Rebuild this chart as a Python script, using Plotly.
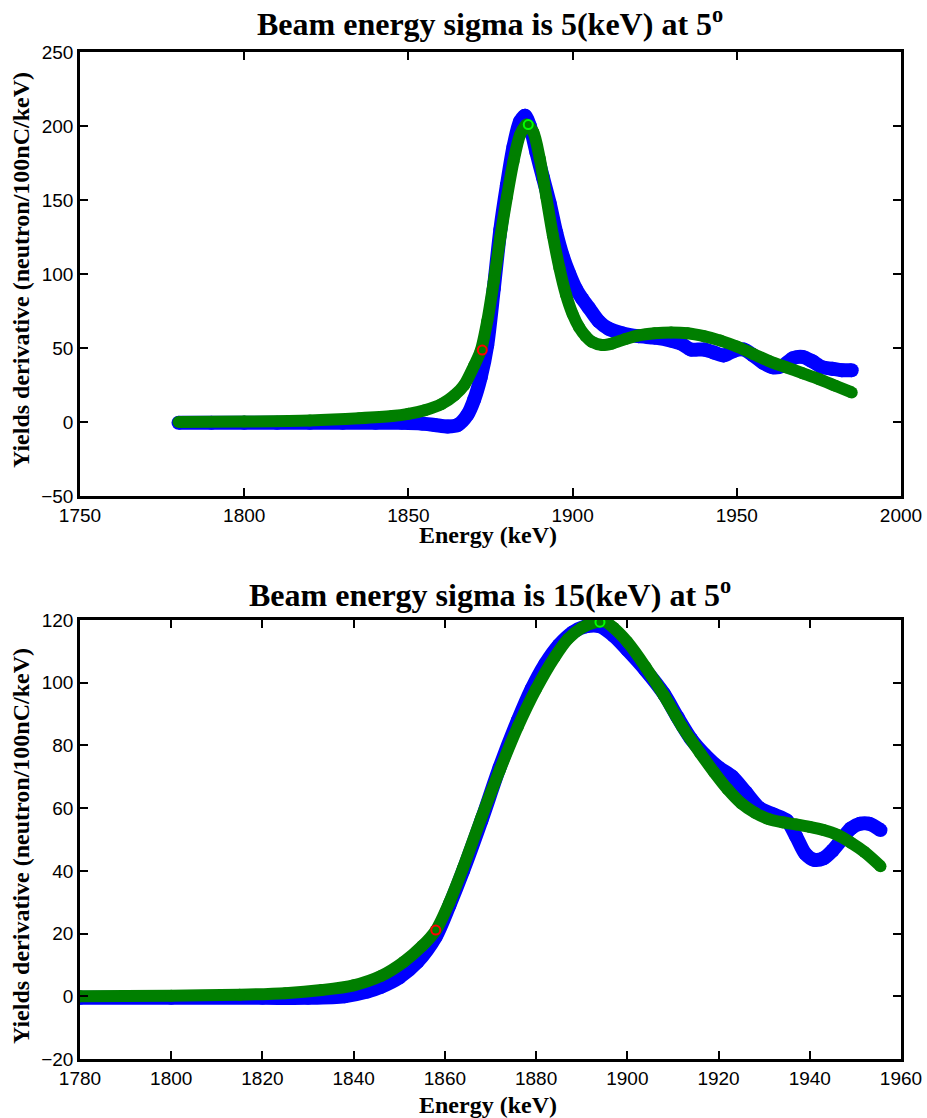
import plotly.graph_objects as go

# ---------------- data: top panel (sigma = 5 keV) ----------------
top_blue_x = [1780, 1790, 1800, 1810, 1820, 1830, 1840, 1848, 1854, 1858, 1862, 1865,
              1868, 1870, 1872, 1874, 1876, 1878, 1880, 1882, 1884, 1885.5, 1887, 1889,
              1891, 1893, 1895, 1897, 1899, 1901, 1903, 1905, 1908, 1911, 1915, 1920,
              1925, 1930, 1933, 1936, 1940, 1943, 1946, 1949, 1952, 1955, 1958, 1961,
              1964, 1967, 1970, 1973, 1976, 1979, 1982, 1985]
top_blue_y = [-0.5, -0.5, -0.5, -0.5, -0.5, -0.5, -0.5, -0.5, -1, -2, -3, -2,
              5, 15, 30, 52, 90, 130, 160, 186, 203, 207, 200, 182,
              165, 148, 128, 112, 100, 90, 83, 77, 68, 63, 60, 58,
              57, 55, 53, 49, 49, 47, 45, 48, 49, 45, 40, 37,
              38, 43, 44, 41, 37, 36, 35, 35]

top_green_x = [1780, 1800, 1820, 1835, 1845, 1850, 1855, 1860, 1864, 1867, 1870, 1872,
               1874, 1876, 1878, 1880, 1882, 1884, 1886, 1888, 1890, 1892, 1894, 1896,
               1898, 1900, 1902, 1904, 1906, 1909, 1912, 1916, 1920, 1925, 1930, 1935,
               1940, 1945, 1950, 1955, 1960, 1965, 1970, 1975, 1980, 1985]
top_green_y = [0, 0.3, 1, 2.5, 4, 5.5, 8, 12, 18, 25, 38, 48,
               68, 95, 125, 152, 176, 194, 201, 196, 178, 152, 126, 104,
               86, 73, 64, 58, 54, 52, 53, 56, 58.5, 60, 60.5, 60,
               58, 55, 51, 46, 41, 37, 33, 29, 24.5, 20]

top_red_pt = (1872.5, 48.6)
top_peak_pt = (1886.5, 201)

# ---------------- data: bottom panel (sigma = 15 keV) ----------------
bot_blue_x = [1780, 1800, 1820, 1830, 1838, 1843, 1846, 1850, 1854, 1858, 1861,
              1864, 1868, 1872, 1876, 1879, 1882, 1885, 1888, 1891, 1894, 1897, 1900,
              1904, 1908, 1911, 1914, 1917, 1920, 1923, 1926, 1929, 1932, 1935, 1937,
              1939, 1941, 1943, 1945, 1947, 1949, 1951, 1953, 1955.5]
bot_blue_y = [-0.5, -0.5, -0.5, -0.5, 0, 1.5, 3, 6, 11, 19, 29,
              40, 56, 73, 88, 98, 106, 112, 116, 118, 118, 115, 110.5,
              104, 96.5, 89, 82, 77, 73, 70, 65, 60, 58, 56, 51,
              45.5, 43.5, 44, 46.5, 50, 53.5, 55, 55, 53]

bot_green_x = [1780, 1800, 1815, 1825, 1833, 1840, 1846, 1851, 1855, 1858, 1861, 1864,
               1868, 1872, 1876, 1880, 1884, 1887, 1890, 1893, 1895, 1897, 1900, 1904,
               1908, 1912, 1916, 1919, 1922, 1925, 1928, 1931, 1934, 1937, 1940, 1943,
               1946, 1949, 1952, 1955.5]
bot_green_y = [0, 0.2, 0.5, 1, 2, 3.5, 6.5, 11, 16, 21, 30, 41,
               57, 72, 86, 98, 108, 114, 117.5, 119.3, 119.5, 117.5, 113, 105,
               96, 86, 77.5, 71.5, 66, 61.5, 58.5, 56.5, 55.5, 54.8, 54, 53,
               51.5, 49, 46, 41.5]

bot_red_pt = (1858, 21.1)
bot_peak_pt = (1894, 119.3)

titles = ["Beam energy sigma is 5(keV) at 5<sup>o</sup>",
          "Beam energy sigma is 15(keV) at 5<sup>o</sup>"]
x_title = "Energy (keV)"
y_title = "Yields derivative (neutron/100nC/keV)"

# ---------------- figure ----------------
W, H = 927, 1118
BLUE = "#0000ff"
GREEN = "#007f00"
SERIF = "Liberation Serif, Times New Roman, serif"
SANS = "Liberation Sans, Arial, sans-serif"

fig = go.Figure()


def add_panel(bx, by, gx, gy, red, peak, xa, ya):
    fig.add_trace(go.Scatter(x=bx, y=by, mode="lines+markers", line_shape="spline",
                             line=dict(color=BLUE, width=14, smoothing=0.8),
                             marker=dict(color=BLUE, size=14),
                             xaxis=xa, yaxis=ya, showlegend=False, hoverinfo="skip"))
    fig.add_trace(go.Scatter(x=gx, y=gy, mode="lines+markers", line_shape="spline",
                             line=dict(color=GREEN, width=12, smoothing=0.8),
                             marker=dict(color=GREEN, size=12),
                             xaxis=xa, yaxis=ya, showlegend=False, hoverinfo="skip"))
    fig.add_trace(go.Scatter(x=[red[0]], y=[red[1]], mode="markers",
                             marker=dict(symbol="circle-open", color="#ff0000", size=9,
                                         line=dict(width=2, color="#ff0000")),
                             xaxis=xa, yaxis=ya, showlegend=False, hoverinfo="skip"))
    fig.add_trace(go.Scatter(x=[peak[0]], y=[peak[1]], mode="markers",
                             marker=dict(symbol="circle-open", color="#00ff00", size=9,
                                         line=dict(width=2, color="#00ff00")),
                             xaxis=xa, yaxis=ya, showlegend=False, hoverinfo="skip"))


add_panel(top_blue_x, top_blue_y, top_green_x, top_green_y, top_red_pt, top_peak_pt, "x", "y")
add_panel(bot_blue_x, bot_blue_y, bot_green_x, bot_green_y, bot_red_pt, bot_peak_pt, "x2", "y2")

axis_common = dict(showline=True, linewidth=2.5, linecolor="black", mirror="ticks",
                   ticks="inside", ticklen=8, tickwidth=2, tickcolor="black",
                   showgrid=False, zeroline=False, automargin=False,
                   tickfont=dict(family=SANS, size=19, color="black"))

xd = [80 / W, 901 / W]
fig.update_layout(
    width=W, height=H, autosize=False,
    margin=dict(l=0, r=0, t=0, b=0, autoexpand=False),
    paper_bgcolor="white", plot_bgcolor="white",
    xaxis=dict(domain=xd, range=[1750, 2000], dtick=50, tick0=1750, anchor="y", **axis_common),
    yaxis=dict(domain=[1 - 496 / H, 1 - 52 / H], range=[-50, 250], dtick=50, anchor="x",
               **axis_common),
    xaxis2=dict(domain=xd, range=[1780, 1960], dtick=20, tick0=1780, anchor="y2", **axis_common),
    yaxis2=dict(domain=[1 - 1059 / H, 1 - 620 / H], range=[-20, 120], dtick=20, anchor="x2",
                **axis_common),
)

ann = []
for t, yc in zip(titles, [22, 593]):
    ann.append(dict(text="<b>" + t + "</b>", x=490 / W, y=1 - yc / H, xref="paper", yref="paper",
                    xanchor="center", yanchor="middle", showarrow=False,
                    font=dict(family=SERIF, size=32, color="black")))
for yc in [535, 1105]:
    ann.append(dict(text="<b>" + x_title + "</b>", x=488 / W, y=1 - yc / H, xref="paper",
                    yref="paper", xanchor="center", yanchor="middle", showarrow=False,
                    font=dict(family=SERIF, size=24, color="black")))
for yc in [270, 846]:
    ann.append(dict(text="<b>" + y_title + "</b>", x=21 / W, y=1 - yc / H, xref="paper",
                    yref="paper", xanchor="center", yanchor="middle", showarrow=False,
                    textangle=-90, font=dict(family=SERIF, size=24, color="black")))
fig.update_layout(annotations=ann)

fig.write_html("out.html", config={"displayModeBar": False},
               post_script="document.body.style.margin='0';document.body.style.padding='0';"
                           "document.body.style.overflow='hidden';")
